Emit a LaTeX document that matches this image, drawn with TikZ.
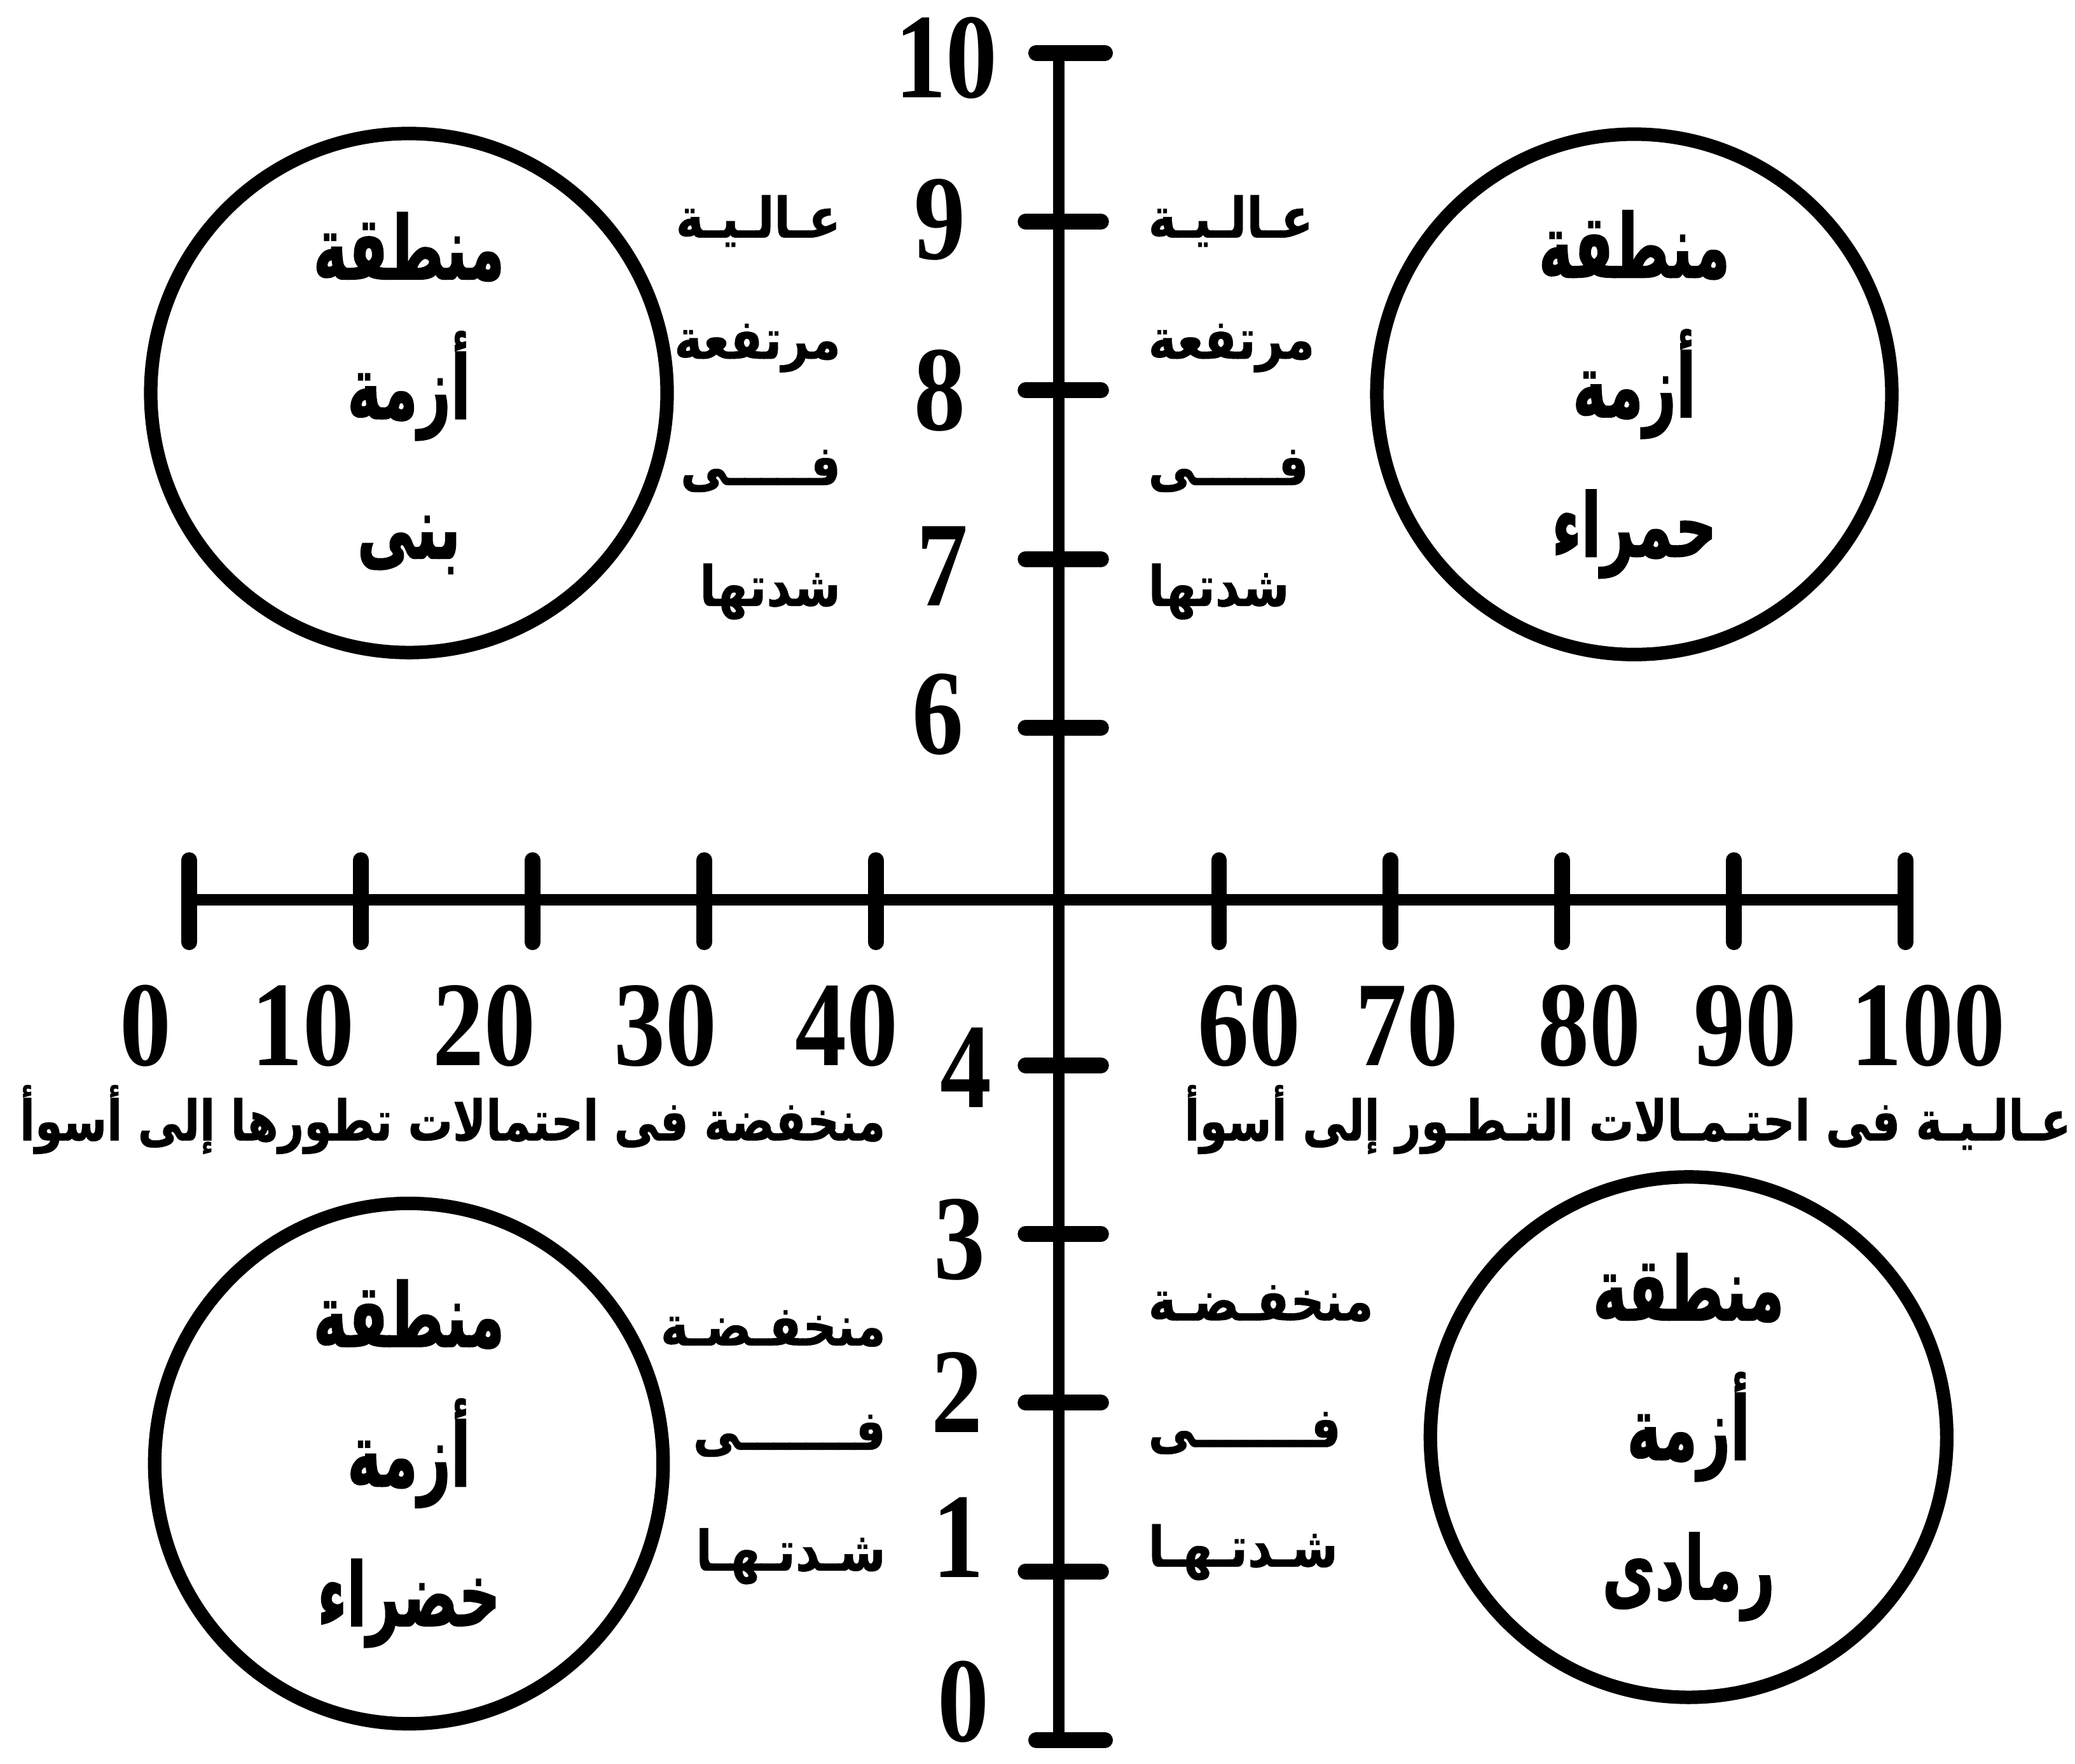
\documentclass[tikz,border=0pt]{standalone}
\usepackage{fontspec}
\setmainfont{Liberation Serif}
\newfontfamily\numfont[FakeStretch=0.85]{Liberation Serif}
\newfontfamily\zonefont[Script=Arabic, FakeStretch=0.65, FakeBold=1.2]{DejaVu Sans}
\newfontfamily\sidefont[Script=Arabic, FakeStretch=0.85, FakeBold=0.6]{DejaVu Sans}
\newfontfamily\axfont[Script=Arabic, FakeStretch=0.8, FakeBold=0.6]{DejaVu Sans}
\TeXXeTstate=1
\usepackage{tikz}
\usetikzlibrary{shapes.geometric}
\tikzset{
  axline/.style={line width=2.4pt, draw=black},
  tickline/.style={line width=3.4pt, draw=black, line cap=round},
  zone/.style={ellipse, draw=black, line width=2.9pt, inner sep=0pt,
    font=\zonefont\bfseries\fontsize{19}{30}\selectfont, align=center},
  ticknum/.style={font=\numfont\bfseries\fontsize{26}{26}\selectfont, inner sep=0pt},
  sidetxt/.style={font=\sidefont\bfseries\fontsize{12}{12}\selectfont, inner sep=0pt},
  axtxt/.style={font=\axfont\bfseries\fontsize{12}{12}\selectfont, inner sep=0pt},
}

\begin{document}
\begin{tikzpicture}[x=0.01cm, y=-0.01cm]
\useasboundingbox (0,0) rectangle (1568,1333);
% axes
\draw[axline] (800,40) -- (800,1315);
\draw[axline] (143,680) -- (1440,680);
\draw[tickline] (783,40) -- (835,40);
\draw[tickline] (783,1315) -- (835,1315);
\foreach \v in {1,2,3,4,6,7,8,9}
  \draw[tickline] (775,{1315-127.5*\v}) -- (832,{1315-127.5*\v});
\foreach \k in {0,1,2,3,4,6,7,8,9,10}
  \draw[tickline] ({143+129.7*\k},650) -- ({143+129.7*\k},712);
% numbers on the intensity axis
\foreach \v/\xx/\yy in {10/715/44, 9/710/166, 8/710/295, 7/712/428, 6/709/540,
                        4/730/807, 3/725/937, 2/723/1052, 1/724/1162, 0/728/1286}
  \node[ticknum] (v\v) at (\xx,\yy) {\v};
% numbers on the probability axis
\foreach \v/\xx in {0/110, 10/229, 20/366, 30/503, 40/640, 60/944, 70/1063, 80/1201, 90/1319, 100/1457}
  \node[ticknum] (h\v) at (\xx,775) {\v};
% words beside the intensity axis
\foreach \yy/\w [count=\i] in {167/عـالـيـة, 263/مرتفعة, 356/فـــــى, 447/شدتها}{
  \node[sidetxt, anchor=east] (hl\i) at (636,\yy) {\beginR\w\endR};
  \node[sidetxt, anchor=west] (hr\i) at (867,\yy) {\beginR\w\endR};
}
\foreach \yy/\w [count=\i] in {1004/منخفـضـة, 1085/فـــــــى, 1176/شـدتـهـا}{
  \node[sidetxt, anchor=east] (ll\i) at (670,\yy) {\beginR\w\endR};
}
\foreach \yy/\w [count=\i] in {985/منخفـضـة, 1083/فـــــــى, 1173/شـدتـهـا}{
  \node[sidetxt, anchor=west] (lr\i) at (867,\yy) {\beginR\w\endR};
}
\node[axtxt] (lowprob) at (342,846) {\beginR منخفضة فى احتمالات تطورها إلى أسوأ\endR};
\node[axtxt] (highprob) at (1230,846) {\beginR عـالـيـة فى احتـمـالات التـطـور إلى أسوأ\endR};
% crisis zones
\node[zone, minimum width=3.9cm, minimum height=3.92cm] (brown) at (309,297)
  {\beginR منطقة\endR\\\beginR أزمة\endR\\\beginR بنى\endR};
\node[zone, minimum width=3.89cm, minimum height=3.91cm] (red) at (1235,298)
  {\beginR منطقة\endR\\\beginR أزمة\endR\\\beginR حمراء\endR};
\node[zone, minimum width=3.84cm, minimum height=3.87cm] (green) at (309,1106)
  {\beginR منطقة\endR\\\beginR أزمة\endR\\\beginR خضراء\endR};
\node[zone, minimum width=3.9cm, minimum height=3.92cm] (grey) at (1276,1086)
  {\beginR منطقة\endR\\\beginR أزمة\endR\\\beginR رمادى\endR};
\end{tikzpicture}
\end{document}
